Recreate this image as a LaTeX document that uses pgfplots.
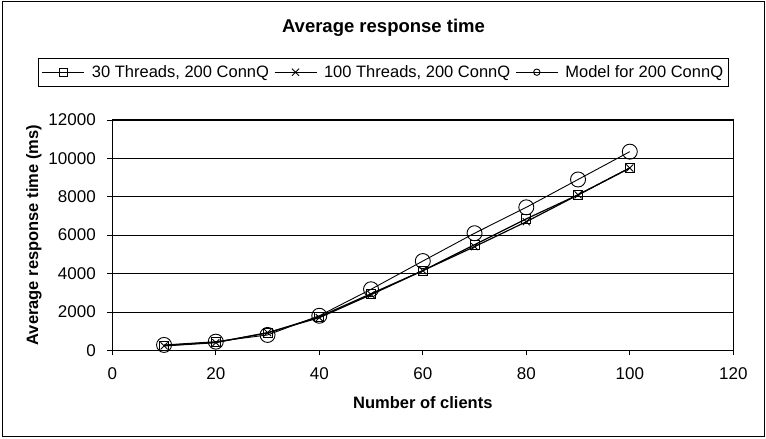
\documentclass[border=0pt]{standalone}
\usepackage{fontspec}
\setmainfont{Liberation Sans}
\usepackage{pgfplots}
\pgfplotsset{compat=1.18}
\begin{document}
\begin{tikzpicture}[x=1pt,y=1pt]
\useasboundingbox (0,0) rectangle (766,439);
\draw[line width=1pt] (2,2) rectangle (764.5,437);
\node[font=\bfseries\fontsize{18.5}{18.5}\selectfont, anchor=base] at (383.5,406.7) {Average response time};
\begin{axis}[
  at={(112.3pt,88.7pt)}, anchor=south west,
  scale only axis, width=621pt, height=230.3pt,
  xmin=0, xmax=120, ymin=0, ymax=12000,
  xtick={0,20,...,120}, ytick={0,2000,...,12000},
  ymajorgrids, grid style={black, line width=0.8pt},
  axis line style={black, line width=1pt},
  tick align=outside, tick pos=left, major tick length=5pt,
  tick style={black, line width=0.8pt},
  scaled y ticks=false,
  /pgf/number format/assume math mode=true,
  /pgf/number format/1000 sep={},
  ticklabel style={font=\fontsize{17}{17}\selectfont},
  xticklabel style={yshift=-9pt},
  yticklabel style={xshift=-8pt},
  xlabel={Number of clients},
  ylabel={Average response time (ms)},
  label style={font=\bfseries\fontsize{16.5}{16.5}\selectfont},
  xlabel style={yshift=-10pt},
  ylabel style={yshift=0pt},
  legend columns=3,
  legend style={at={(0.4367,1.2076)}, anchor=center, draw=black, line width=0.8pt,
    font=\fontsize{16.5}{16.5}\selectfont, inner xsep=3pt, inner ysep=5pt,
    /tikz/every odd column/.append style={column sep=5pt},
    /tikz/every even column/.append style={column sep=3pt}},
  legend image code/.code={\draw[mark repeat=2,mark phase=2,#1, line width=1.1pt] plot coordinates {(0pt,0pt) (21pt,0pt) (42pt,0pt)};},
]
\addplot[black, line width=1.2pt, mark=square, mark size=4.5pt, mark options={solid, line width=0.9pt},
  legend image post style={mark size=3.8pt}] coordinates {
(10,250) (20,420) (30,900) (40,1750) (50,2950) (60,4150) (70,5500) (80,6850) (90,8100) (100,9500)};
\addlegendentry{30 Threads, 200 ConnQ}
\addplot[black, line width=1.2pt, mark=x, mark size=5pt, mark options={solid, line width=0.9pt},
  legend image post style={mark size=5pt}] coordinates {
(10,230) (20,400) (30,920) (40,1700) (50,2900) (60,4150) (70,5400) (80,6700) (90,8100) (100,9500)};
\addlegendentry{100 Threads, 200 ConnQ}
\addplot[black, line width=0.9pt, mark=o, mark size=7.5pt, mark options={solid, line width=0.9pt},
  legend image post style={mark size=3.2pt}] coordinates {
(10,280) (20,450) (30,800) (40,1800) (50,3180) (60,4650) (70,6100) (80,7450) (90,8900) (100,10350)};
\addlegendentry{Model for 200 ConnQ}
\end{axis}
\end{tikzpicture}
\end{document}
